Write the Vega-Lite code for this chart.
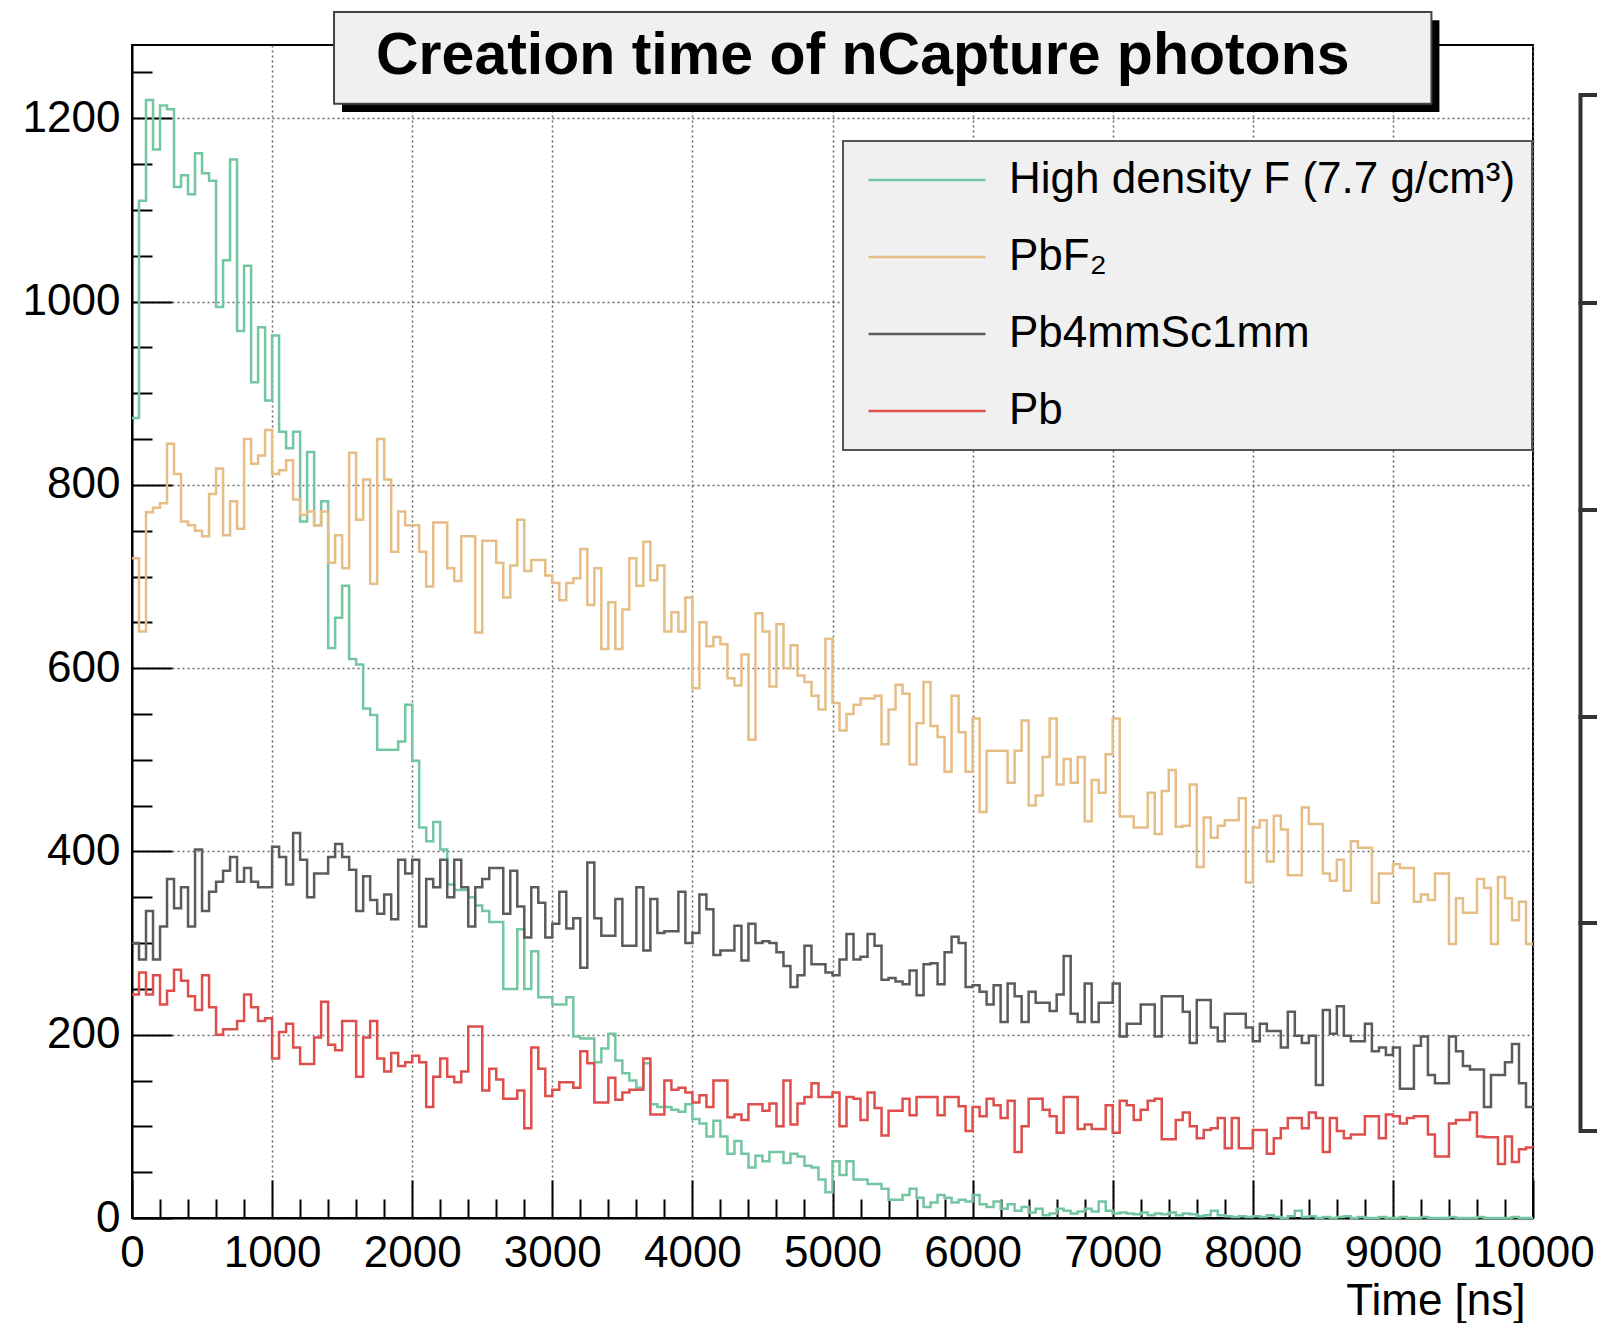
{
"$schema": "https://vega.github.io/schema/vega-lite/v6.json",
"width": 1401,
"height": 1173,
"autosize": {"type": "none"},
"padding": {"left": 132, "top": 45, "right": 64, "bottom": 105},
"background": "white",
"config": {
  "font": "Liberation Sans",
  "view": {"stroke": "#000", "strokeWidth": 2},
  "axis": {"domainColor": "#000", "domainWidth": 2, "tickColor": "#000", "tickWidth": 2, "labelColor": "#000", "labelFont": "Liberation Sans", "titleFont": "Liberation Sans", "titleColor": "#000", "labelOverlap": false},
  "legend": {"strokeWidth": 2}
},
"layer": [
{
  "data": {"values": [
{"s":"HD","t":0,"v":873},{"s":"HD","t":50,"v":1110},{"s":"HD","t":100,"v":1220},{"s":"HD","t":150,"v":1166},{"s":"HD","t":200,"v":1214},{"s":"HD","t":250,"v":1210},{"s":"HD","t":300,"v":1125},{"s":"HD","t":350,"v":1138},{"s":"HD","t":400,"v":1117},{"s":"HD","t":450,"v":1162},
{"s":"HD","t":500,"v":1140},{"s":"HD","t":550,"v":1132},{"s":"HD","t":600,"v":994},{"s":"HD","t":650,"v":1045},{"s":"HD","t":700,"v":1155},{"s":"HD","t":750,"v":968},{"s":"HD","t":800,"v":1039},{"s":"HD","t":850,"v":912},{"s":"HD","t":900,"v":972},{"s":"HD","t":950,"v":892},
{"s":"HD","t":1000,"v":963},{"s":"HD","t":1050,"v":858},{"s":"HD","t":1100,"v":840},{"s":"HD","t":1150,"v":858},{"s":"HD","t":1200,"v":760},{"s":"HD","t":1250,"v":836},{"s":"HD","t":1300,"v":756},{"s":"HD","t":1350,"v":782},{"s":"HD","t":1400,"v":622},{"s":"HD","t":1450,"v":655},
{"s":"HD","t":1500,"v":690},{"s":"HD","t":1550,"v":610},{"s":"HD","t":1600,"v":604},{"s":"HD","t":1650,"v":556},{"s":"HD","t":1700,"v":549},{"s":"HD","t":1750,"v":511},{"s":"HD","t":1800,"v":511},{"s":"HD","t":1850,"v":511},{"s":"HD","t":1900,"v":520},{"s":"HD","t":1950,"v":560},
{"s":"HD","t":2000,"v":499},{"s":"HD","t":2050,"v":426},{"s":"HD","t":2100,"v":411},{"s":"HD","t":2150,"v":432},{"s":"HD","t":2200,"v":402},{"s":"HD","t":2250,"v":364},{"s":"HD","t":2300,"v":358},{"s":"HD","t":2350,"v":358},{"s":"HD","t":2400,"v":350},{"s":"HD","t":2450,"v":341},
{"s":"HD","t":2500,"v":335},{"s":"HD","t":2550,"v":323},{"s":"HD","t":2600,"v":323},{"s":"HD","t":2650,"v":250},{"s":"HD","t":2700,"v":250},{"s":"HD","t":2750,"v":315},{"s":"HD","t":2800,"v":250},{"s":"HD","t":2850,"v":291},{"s":"HD","t":2900,"v":241},{"s":"HD","t":2950,"v":241},
{"s":"HD","t":3000,"v":233},{"s":"HD","t":3050,"v":233},{"s":"HD","t":3100,"v":241},{"s":"HD","t":3150,"v":198},{"s":"HD","t":3200,"v":196},{"s":"HD","t":3250,"v":196},{"s":"HD","t":3300,"v":170},{"s":"HD","t":3350,"v":185},{"s":"HD","t":3400,"v":201},{"s":"HD","t":3450,"v":172},
{"s":"HD","t":3500,"v":158},{"s":"HD","t":3550,"v":150},{"s":"HD","t":3600,"v":142},{"s":"HD","t":3650,"v":169},{"s":"HD","t":3700,"v":124},{"s":"HD","t":3750,"v":121},{"s":"HD","t":3800,"v":121},{"s":"HD","t":3850,"v":118},{"s":"HD","t":3900,"v":116},{"s":"HD","t":3950,"v":124},
{"s":"HD","t":4000,"v":108},{"s":"HD","t":4050,"v":103},{"s":"HD","t":4100,"v":89},{"s":"HD","t":4150,"v":106},{"s":"HD","t":4200,"v":89},{"s":"HD","t":4250,"v":70},{"s":"HD","t":4300,"v":84},{"s":"HD","t":4350,"v":70},{"s":"HD","t":4400,"v":55},{"s":"HD","t":4450,"v":68},
{"s":"HD","t":4500,"v":62},{"s":"HD","t":4550,"v":72},{"s":"HD","t":4600,"v":72},{"s":"HD","t":4650,"v":60},{"s":"HD","t":4700,"v":70},{"s":"HD","t":4750,"v":67},{"s":"HD","t":4800,"v":57},{"s":"HD","t":4850,"v":55},{"s":"HD","t":4900,"v":42},{"s":"HD","t":4950,"v":28},
{"s":"HD","t":5000,"v":62},{"s":"HD","t":5050,"v":47},{"s":"HD","t":5100,"v":62},{"s":"HD","t":5150,"v":42},{"s":"HD","t":5200,"v":42},{"s":"HD","t":5250,"v":37},{"s":"HD","t":5300,"v":37},{"s":"HD","t":5350,"v":32},{"s":"HD","t":5400,"v":20},{"s":"HD","t":5450,"v":20},
{"s":"HD","t":5500,"v":25},{"s":"HD","t":5550,"v":32},{"s":"HD","t":5600,"v":22},{"s":"HD","t":5650,"v":12},{"s":"HD","t":5700,"v":17},{"s":"HD","t":5750,"v":25},{"s":"HD","t":5800,"v":22},{"s":"HD","t":5850,"v":17},{"s":"HD","t":5900,"v":20},{"s":"HD","t":5950,"v":18},
{"s":"HD","t":6000,"v":25},{"s":"HD","t":6050,"v":15},{"s":"HD","t":6100,"v":12},{"s":"HD","t":6150,"v":18},{"s":"HD","t":6200,"v":10},{"s":"HD","t":6250,"v":15},{"s":"HD","t":6300,"v":8},{"s":"HD","t":6350,"v":12},{"s":"HD","t":6400,"v":6},{"s":"HD","t":6450,"v":10},
{"s":"HD","t":6500,"v":3},{"s":"HD","t":6550,"v":5},{"s":"HD","t":6600,"v":10},{"s":"HD","t":6650,"v":8},{"s":"HD","t":6700,"v":5},{"s":"HD","t":6750,"v":7},{"s":"HD","t":6800,"v":10},{"s":"HD","t":6850,"v":7},{"s":"HD","t":6900,"v":18},{"s":"HD","t":6950,"v":8},
{"s":"HD","t":7000,"v":5},{"s":"HD","t":7050,"v":6},{"s":"HD","t":7100,"v":5},{"s":"HD","t":7150,"v":4},{"s":"HD","t":7200,"v":6},{"s":"HD","t":7250,"v":3},{"s":"HD","t":7300,"v":5},{"s":"HD","t":7350,"v":4},{"s":"HD","t":7400,"v":6},{"s":"HD","t":7450,"v":3},
{"s":"HD","t":7500,"v":5},{"s":"HD","t":7550,"v":4},{"s":"HD","t":7600,"v":2},{"s":"HD","t":7650,"v":3},{"s":"HD","t":7700,"v":8},{"s":"HD","t":7750,"v":3},{"s":"HD","t":7800,"v":2},{"s":"HD","t":7850,"v":1},{"s":"HD","t":7900,"v":2},{"s":"HD","t":7950,"v":1},
{"s":"HD","t":8000,"v":2},{"s":"HD","t":8050,"v":1},{"s":"HD","t":8100,"v":3},{"s":"HD","t":8150,"v":1},{"s":"HD","t":8200,"v":0},{"s":"HD","t":8250,"v":2},{"s":"HD","t":8300,"v":8},{"s":"HD","t":8350,"v":1},{"s":"HD","t":8400,"v":2},{"s":"HD","t":8450,"v":0},
{"s":"HD","t":8500,"v":1},{"s":"HD","t":8550,"v":0},{"s":"HD","t":8600,"v":1},{"s":"HD","t":8650,"v":2},{"s":"HD","t":8700,"v":0},{"s":"HD","t":8750,"v":1},{"s":"HD","t":8800,"v":0},{"s":"HD","t":8850,"v":0},{"s":"HD","t":8900,"v":1},{"s":"HD","t":8950,"v":0},
{"s":"HD","t":9000,"v":0},{"s":"HD","t":9050,"v":1},{"s":"HD","t":9100,"v":0},{"s":"HD","t":9150,"v":0},{"s":"HD","t":9200,"v":1},{"s":"HD","t":9250,"v":0},{"s":"HD","t":9300,"v":0},{"s":"HD","t":9350,"v":0},{"s":"HD","t":9400,"v":1},{"s":"HD","t":9450,"v":0},
{"s":"HD","t":9500,"v":0},{"s":"HD","t":9550,"v":0},{"s":"HD","t":9600,"v":1},{"s":"HD","t":9650,"v":0},{"s":"HD","t":9700,"v":0},{"s":"HD","t":9750,"v":0},{"s":"HD","t":9800,"v":0},{"s":"HD","t":9850,"v":1},{"s":"HD","t":9900,"v":0},{"s":"HD","t":9950,"v":0},{"s":"HD","t":10000,"v":0},
{"s":"PbF2","t":0,"v":720},{"s":"PbF2","t":50,"v":640},{"s":"PbF2","t":100,"v":770},{"s":"PbF2","t":150,"v":775},{"s":"PbF2","t":200,"v":780},{"s":"PbF2","t":250,"v":845},{"s":"PbF2","t":300,"v":812},{"s":"PbF2","t":350,"v":760},{"s":"PbF2","t":400,"v":756},{"s":"PbF2","t":450,"v":750},
{"s":"PbF2","t":500,"v":744},{"s":"PbF2","t":550,"v":790},{"s":"PbF2","t":600,"v":818},{"s":"PbF2","t":650,"v":745},{"s":"PbF2","t":700,"v":782},{"s":"PbF2","t":750,"v":752},{"s":"PbF2","t":800,"v":850},{"s":"PbF2","t":850,"v":823},{"s":"PbF2","t":900,"v":832},{"s":"PbF2","t":950,"v":860},
{"s":"PbF2","t":1000,"v":812},{"s":"PbF2","t":1050,"v":816},{"s":"PbF2","t":1100,"v":827},{"s":"PbF2","t":1150,"v":784},{"s":"PbF2","t":1200,"v":767},{"s":"PbF2","t":1250,"v":771},{"s":"PbF2","t":1300,"v":756},{"s":"PbF2","t":1350,"v":771},{"s":"PbF2","t":1400,"v":715},{"s":"PbF2","t":1450,"v":745},
{"s":"PbF2","t":1500,"v":709},{"s":"PbF2","t":1550,"v":835},{"s":"PbF2","t":1600,"v":762},{"s":"PbF2","t":1650,"v":806},{"s":"PbF2","t":1700,"v":692},{"s":"PbF2","t":1750,"v":850},{"s":"PbF2","t":1800,"v":806},{"s":"PbF2","t":1850,"v":727},{"s":"PbF2","t":1900,"v":771},{"s":"PbF2","t":1950,"v":756},
{"s":"PbF2","t":2000,"v":756},{"s":"PbF2","t":2050,"v":727},{"s":"PbF2","t":2100,"v":689},{"s":"PbF2","t":2150,"v":759},{"s":"PbF2","t":2200,"v":759},{"s":"PbF2","t":2250,"v":709},{"s":"PbF2","t":2300,"v":695},{"s":"PbF2","t":2350,"v":744},{"s":"PbF2","t":2400,"v":744},{"s":"PbF2","t":2450,"v":639},
{"s":"PbF2","t":2500,"v":739},{"s":"PbF2","t":2550,"v":739},{"s":"PbF2","t":2600,"v":715},{"s":"PbF2","t":2650,"v":677},{"s":"PbF2","t":2700,"v":712},{"s":"PbF2","t":2750,"v":762},{"s":"PbF2","t":2800,"v":706},{"s":"PbF2","t":2850,"v":718},{"s":"PbF2","t":2900,"v":718},{"s":"PbF2","t":2950,"v":701},
{"s":"PbF2","t":3000,"v":693},{"s":"PbF2","t":3050,"v":674},{"s":"PbF2","t":3100,"v":693},{"s":"PbF2","t":3150,"v":698},{"s":"PbF2","t":3200,"v":730},{"s":"PbF2","t":3250,"v":669},{"s":"PbF2","t":3300,"v":709},{"s":"PbF2","t":3350,"v":621},{"s":"PbF2","t":3400,"v":672},{"s":"PbF2","t":3450,"v":621},
{"s":"PbF2","t":3500,"v":664},{"s":"PbF2","t":3550,"v":720},{"s":"PbF2","t":3600,"v":690},{"s":"PbF2","t":3650,"v":738},{"s":"PbF2","t":3700,"v":696},{"s":"PbF2","t":3750,"v":712},{"s":"PbF2","t":3800,"v":640},{"s":"PbF2","t":3850,"v":661},{"s":"PbF2","t":3900,"v":640},{"s":"PbF2","t":3950,"v":677},
{"s":"PbF2","t":4000,"v":578},{"s":"PbF2","t":4050,"v":650},{"s":"PbF2","t":4100,"v":624},{"s":"PbF2","t":4150,"v":634},{"s":"PbF2","t":4200,"v":626},{"s":"PbF2","t":4250,"v":589},{"s":"PbF2","t":4300,"v":581},{"s":"PbF2","t":4350,"v":615},{"s":"PbF2","t":4400,"v":522},{"s":"PbF2","t":4450,"v":660},
{"s":"PbF2","t":4500,"v":640},{"s":"PbF2","t":4550,"v":580},{"s":"PbF2","t":4600,"v":648},{"s":"PbF2","t":4650,"v":600},{"s":"PbF2","t":4700,"v":625},{"s":"PbF2","t":4750,"v":592},{"s":"PbF2","t":4800,"v":585},{"s":"PbF2","t":4850,"v":570},{"s":"PbF2","t":4900,"v":555},{"s":"PbF2","t":4950,"v":632},
{"s":"PbF2","t":5000,"v":562},{"s":"PbF2","t":5050,"v":532},{"s":"PbF2","t":5100,"v":550},{"s":"PbF2","t":5150,"v":560},{"s":"PbF2","t":5200,"v":567},{"s":"PbF2","t":5250,"v":567},{"s":"PbF2","t":5300,"v":570},{"s":"PbF2","t":5350,"v":517},{"s":"PbF2","t":5400,"v":555},{"s":"PbF2","t":5450,"v":582},
{"s":"PbF2","t":5500,"v":572},{"s":"PbF2","t":5550,"v":495},{"s":"PbF2","t":5600,"v":540},{"s":"PbF2","t":5650,"v":585},{"s":"PbF2","t":5700,"v":537},{"s":"PbF2","t":5750,"v":525},{"s":"PbF2","t":5800,"v":487},{"s":"PbF2","t":5850,"v":570},{"s":"PbF2","t":5900,"v":530},{"s":"PbF2","t":5950,"v":487},
{"s":"PbF2","t":6000,"v":545},{"s":"PbF2","t":6050,"v":443},{"s":"PbF2","t":6100,"v":510},{"s":"PbF2","t":6150,"v":510},{"s":"PbF2","t":6200,"v":510},{"s":"PbF2","t":6250,"v":475},{"s":"PbF2","t":6300,"v":510},{"s":"PbF2","t":6350,"v":543},{"s":"PbF2","t":6400,"v":450},{"s":"PbF2","t":6450,"v":461},
{"s":"PbF2","t":6500,"v":503},{"s":"PbF2","t":6550,"v":545},{"s":"PbF2","t":6600,"v":473},{"s":"PbF2","t":6650,"v":501},{"s":"PbF2","t":6700,"v":475},{"s":"PbF2","t":6750,"v":503},{"s":"PbF2","t":6800,"v":433},{"s":"PbF2","t":6850,"v":478},{"s":"PbF2","t":6900,"v":464},{"s":"PbF2","t":6950,"v":506},
{"s":"PbF2","t":7000,"v":545},{"s":"PbF2","t":7050,"v":438},{"s":"PbF2","t":7100,"v":438},{"s":"PbF2","t":7150,"v":426},{"s":"PbF2","t":7200,"v":426},{"s":"PbF2","t":7250,"v":464},{"s":"PbF2","t":7300,"v":419},{"s":"PbF2","t":7350,"v":466},{"s":"PbF2","t":7400,"v":489},{"s":"PbF2","t":7450,"v":427},
{"s":"PbF2","t":7500,"v":428},{"s":"PbF2","t":7550,"v":473},{"s":"PbF2","t":7600,"v":383},{"s":"PbF2","t":7650,"v":437},{"s":"PbF2","t":7700,"v":415},{"s":"PbF2","t":7750,"v":428},{"s":"PbF2","t":7800,"v":434},{"s":"PbF2","t":7850,"v":434},{"s":"PbF2","t":7900,"v":458},{"s":"PbF2","t":7950,"v":366},
{"s":"PbF2","t":8000,"v":426},{"s":"PbF2","t":8050,"v":434},{"s":"PbF2","t":8100,"v":389},{"s":"PbF2","t":8150,"v":439},{"s":"PbF2","t":8200,"v":424},{"s":"PbF2","t":8250,"v":374},{"s":"PbF2","t":8300,"v":374},{"s":"PbF2","t":8350,"v":448},{"s":"PbF2","t":8400,"v":430},{"s":"PbF2","t":8450,"v":430},
{"s":"PbF2","t":8500,"v":376},{"s":"PbF2","t":8550,"v":368},{"s":"PbF2","t":8600,"v":391},{"s":"PbF2","t":8650,"v":357},{"s":"PbF2","t":8700,"v":411},{"s":"PbF2","t":8750,"v":404},{"s":"PbF2","t":8800,"v":404},{"s":"PbF2","t":8850,"v":344},{"s":"PbF2","t":8900,"v":376},{"s":"PbF2","t":8950,"v":376},
{"s":"PbF2","t":9000,"v":386},{"s":"PbF2","t":9050,"v":382},{"s":"PbF2","t":9100,"v":382},{"s":"PbF2","t":9150,"v":345},{"s":"PbF2","t":9200,"v":353},{"s":"PbF2","t":9250,"v":347},{"s":"PbF2","t":9300,"v":376},{"s":"PbF2","t":9350,"v":376},{"s":"PbF2","t":9400,"v":299},{"s":"PbF2","t":9450,"v":349},
{"s":"PbF2","t":9500,"v":333},{"s":"PbF2","t":9550,"v":333},{"s":"PbF2","t":9600,"v":370},{"s":"PbF2","t":9650,"v":360},{"s":"PbF2","t":9700,"v":299},{"s":"PbF2","t":9750,"v":372},{"s":"PbF2","t":9800,"v":349},{"s":"PbF2","t":9850,"v":325},{"s":"PbF2","t":9900,"v":345},{"s":"PbF2","t":9950,"v":299},{"s":"PbF2","t":10000,"v":299},
{"s":"Pb4mmSc1mm","t":0,"v":300},{"s":"Pb4mmSc1mm","t":50,"v":282},{"s":"Pb4mmSc1mm","t":100,"v":335},{"s":"Pb4mmSc1mm","t":150,"v":282},{"s":"Pb4mmSc1mm","t":200,"v":318},{"s":"Pb4mmSc1mm","t":250,"v":370},{"s":"Pb4mmSc1mm","t":300,"v":338},{"s":"Pb4mmSc1mm","t":350,"v":361},{"s":"Pb4mmSc1mm","t":400,"v":318},{"s":"Pb4mmSc1mm","t":450,"v":402},
{"s":"Pb4mmSc1mm","t":500,"v":335},{"s":"Pb4mmSc1mm","t":550,"v":356},{"s":"Pb4mmSc1mm","t":600,"v":367},{"s":"Pb4mmSc1mm","t":650,"v":379},{"s":"Pb4mmSc1mm","t":700,"v":394},{"s":"Pb4mmSc1mm","t":750,"v":367},{"s":"Pb4mmSc1mm","t":800,"v":382},{"s":"Pb4mmSc1mm","t":850,"v":367},{"s":"Pb4mmSc1mm","t":900,"v":361},{"s":"Pb4mmSc1mm","t":950,"v":361},
{"s":"Pb4mmSc1mm","t":1000,"v":405},{"s":"Pb4mmSc1mm","t":1050,"v":394},{"s":"Pb4mmSc1mm","t":1100,"v":364},{"s":"Pb4mmSc1mm","t":1150,"v":420},{"s":"Pb4mmSc1mm","t":1200,"v":391},{"s":"Pb4mmSc1mm","t":1250,"v":350},{"s":"Pb4mmSc1mm","t":1300,"v":376},{"s":"Pb4mmSc1mm","t":1350,"v":376},{"s":"Pb4mmSc1mm","t":1400,"v":394},{"s":"Pb4mmSc1mm","t":1450,"v":408},
{"s":"Pb4mmSc1mm","t":1500,"v":394},{"s":"Pb4mmSc1mm","t":1550,"v":380},{"s":"Pb4mmSc1mm","t":1600,"v":335},{"s":"Pb4mmSc1mm","t":1650,"v":373},{"s":"Pb4mmSc1mm","t":1700,"v":347},{"s":"Pb4mmSc1mm","t":1750,"v":332},{"s":"Pb4mmSc1mm","t":1800,"v":353},{"s":"Pb4mmSc1mm","t":1850,"v":326},{"s":"Pb4mmSc1mm","t":1900,"v":391},{"s":"Pb4mmSc1mm","t":1950,"v":376},
{"s":"Pb4mmSc1mm","t":2000,"v":391},{"s":"Pb4mmSc1mm","t":2050,"v":318},{"s":"Pb4mmSc1mm","t":2100,"v":370},{"s":"Pb4mmSc1mm","t":2150,"v":361},{"s":"Pb4mmSc1mm","t":2200,"v":391},{"s":"Pb4mmSc1mm","t":2250,"v":350},{"s":"Pb4mmSc1mm","t":2300,"v":391},{"s":"Pb4mmSc1mm","t":2350,"v":361},{"s":"Pb4mmSc1mm","t":2400,"v":318},{"s":"Pb4mmSc1mm","t":2450,"v":361},
{"s":"Pb4mmSc1mm","t":2500,"v":370},{"s":"Pb4mmSc1mm","t":2550,"v":382},{"s":"Pb4mmSc1mm","t":2600,"v":382},{"s":"Pb4mmSc1mm","t":2650,"v":332},{"s":"Pb4mmSc1mm","t":2700,"v":379},{"s":"Pb4mmSc1mm","t":2750,"v":340},{"s":"Pb4mmSc1mm","t":2800,"v":306},{"s":"Pb4mmSc1mm","t":2850,"v":361},{"s":"Pb4mmSc1mm","t":2900,"v":344},{"s":"Pb4mmSc1mm","t":2950,"v":306},
{"s":"Pb4mmSc1mm","t":3000,"v":321},{"s":"Pb4mmSc1mm","t":3050,"v":356},{"s":"Pb4mmSc1mm","t":3100,"v":316},{"s":"Pb4mmSc1mm","t":3150,"v":327},{"s":"Pb4mmSc1mm","t":3200,"v":273},{"s":"Pb4mmSc1mm","t":3250,"v":388},{"s":"Pb4mmSc1mm","t":3300,"v":327},{"s":"Pb4mmSc1mm","t":3350,"v":308},{"s":"Pb4mmSc1mm","t":3400,"v":308},{"s":"Pb4mmSc1mm","t":3450,"v":348},
{"s":"Pb4mmSc1mm","t":3500,"v":297},{"s":"Pb4mmSc1mm","t":3550,"v":297},{"s":"Pb4mmSc1mm","t":3600,"v":361},{"s":"Pb4mmSc1mm","t":3650,"v":292},{"s":"Pb4mmSc1mm","t":3700,"v":348},{"s":"Pb4mmSc1mm","t":3750,"v":311},{"s":"Pb4mmSc1mm","t":3800,"v":313},{"s":"Pb4mmSc1mm","t":3850,"v":313},{"s":"Pb4mmSc1mm","t":3900,"v":356},{"s":"Pb4mmSc1mm","t":3950,"v":300},
{"s":"Pb4mmSc1mm","t":4000,"v":311},{"s":"Pb4mmSc1mm","t":4050,"v":353},{"s":"Pb4mmSc1mm","t":4100,"v":337},{"s":"Pb4mmSc1mm","t":4150,"v":287},{"s":"Pb4mmSc1mm","t":4200,"v":292},{"s":"Pb4mmSc1mm","t":4250,"v":292},{"s":"Pb4mmSc1mm","t":4300,"v":319},{"s":"Pb4mmSc1mm","t":4350,"v":281},{"s":"Pb4mmSc1mm","t":4400,"v":321},{"s":"Pb4mmSc1mm","t":4450,"v":300},
{"s":"Pb4mmSc1mm","t":4500,"v":302},{"s":"Pb4mmSc1mm","t":4550,"v":300},{"s":"Pb4mmSc1mm","t":4600,"v":290},{"s":"Pb4mmSc1mm","t":4650,"v":275},{"s":"Pb4mmSc1mm","t":4700,"v":252},{"s":"Pb4mmSc1mm","t":4750,"v":265},{"s":"Pb4mmSc1mm","t":4800,"v":297},{"s":"Pb4mmSc1mm","t":4850,"v":277},{"s":"Pb4mmSc1mm","t":4900,"v":277},{"s":"Pb4mmSc1mm","t":4950,"v":268},
{"s":"Pb4mmSc1mm","t":5000,"v":265},{"s":"Pb4mmSc1mm","t":5050,"v":282},{"s":"Pb4mmSc1mm","t":5100,"v":310},{"s":"Pb4mmSc1mm","t":5150,"v":282},{"s":"Pb4mmSc1mm","t":5200,"v":285},{"s":"Pb4mmSc1mm","t":5250,"v":310},{"s":"Pb4mmSc1mm","t":5300,"v":297},{"s":"Pb4mmSc1mm","t":5350,"v":260},{"s":"Pb4mmSc1mm","t":5400,"v":262},{"s":"Pb4mmSc1mm","t":5450,"v":258},
{"s":"Pb4mmSc1mm","t":5500,"v":255},{"s":"Pb4mmSc1mm","t":5550,"v":270},{"s":"Pb4mmSc1mm","t":5600,"v":243},{"s":"Pb4mmSc1mm","t":5650,"v":277},{"s":"Pb4mmSc1mm","t":5700,"v":278},{"s":"Pb4mmSc1mm","t":5750,"v":255},{"s":"Pb4mmSc1mm","t":5800,"v":290},{"s":"Pb4mmSc1mm","t":5850,"v":307},{"s":"Pb4mmSc1mm","t":5900,"v":300},{"s":"Pb4mmSc1mm","t":5950,"v":252},
{"s":"Pb4mmSc1mm","t":6000,"v":254},{"s":"Pb4mmSc1mm","t":6050,"v":247},{"s":"Pb4mmSc1mm","t":6100,"v":233},{"s":"Pb4mmSc1mm","t":6150,"v":254},{"s":"Pb4mmSc1mm","t":6200,"v":214},{"s":"Pb4mmSc1mm","t":6250,"v":256},{"s":"Pb4mmSc1mm","t":6300,"v":242},{"s":"Pb4mmSc1mm","t":6350,"v":214},{"s":"Pb4mmSc1mm","t":6400,"v":247},{"s":"Pb4mmSc1mm","t":6450,"v":235},
{"s":"Pb4mmSc1mm","t":6500,"v":235},{"s":"Pb4mmSc1mm","t":6550,"v":226},{"s":"Pb4mmSc1mm","t":6600,"v":244},{"s":"Pb4mmSc1mm","t":6650,"v":286},{"s":"Pb4mmSc1mm","t":6700,"v":223},{"s":"Pb4mmSc1mm","t":6750,"v":214},{"s":"Pb4mmSc1mm","t":6800,"v":256},{"s":"Pb4mmSc1mm","t":6850,"v":214},{"s":"Pb4mmSc1mm","t":6900,"v":235},{"s":"Pb4mmSc1mm","t":6950,"v":235},
{"s":"Pb4mmSc1mm","t":7000,"v":256},{"s":"Pb4mmSc1mm","t":7050,"v":198},{"s":"Pb4mmSc1mm","t":7100,"v":212},{"s":"Pb4mmSc1mm","t":7150,"v":212},{"s":"Pb4mmSc1mm","t":7200,"v":233},{"s":"Pb4mmSc1mm","t":7250,"v":233},{"s":"Pb4mmSc1mm","t":7300,"v":198},{"s":"Pb4mmSc1mm","t":7350,"v":242},{"s":"Pb4mmSc1mm","t":7400,"v":242},{"s":"Pb4mmSc1mm","t":7450,"v":242},
{"s":"Pb4mmSc1mm","t":7500,"v":225},{"s":"Pb4mmSc1mm","t":7550,"v":191},{"s":"Pb4mmSc1mm","t":7600,"v":238},{"s":"Pb4mmSc1mm","t":7650,"v":238},{"s":"Pb4mmSc1mm","t":7700,"v":208},{"s":"Pb4mmSc1mm","t":7750,"v":193},{"s":"Pb4mmSc1mm","t":7800,"v":223},{"s":"Pb4mmSc1mm","t":7850,"v":223},{"s":"Pb4mmSc1mm","t":7900,"v":223},{"s":"Pb4mmSc1mm","t":7950,"v":208},
{"s":"Pb4mmSc1mm","t":8000,"v":193},{"s":"Pb4mmSc1mm","t":8050,"v":212},{"s":"Pb4mmSc1mm","t":8100,"v":204},{"s":"Pb4mmSc1mm","t":8150,"v":204},{"s":"Pb4mmSc1mm","t":8200,"v":186},{"s":"Pb4mmSc1mm","t":8250,"v":225},{"s":"Pb4mmSc1mm","t":8300,"v":199},{"s":"Pb4mmSc1mm","t":8350,"v":191},{"s":"Pb4mmSc1mm","t":8400,"v":199},{"s":"Pb4mmSc1mm","t":8450,"v":145},
{"s":"Pb4mmSc1mm","t":8500,"v":227},{"s":"Pb4mmSc1mm","t":8550,"v":201},{"s":"Pb4mmSc1mm","t":8600,"v":231},{"s":"Pb4mmSc1mm","t":8650,"v":199},{"s":"Pb4mmSc1mm","t":8700,"v":193},{"s":"Pb4mmSc1mm","t":8750,"v":193},{"s":"Pb4mmSc1mm","t":8800,"v":212},{"s":"Pb4mmSc1mm","t":8850,"v":182},{"s":"Pb4mmSc1mm","t":8900,"v":186},{"s":"Pb4mmSc1mm","t":8950,"v":178},
{"s":"Pb4mmSc1mm","t":9000,"v":186},{"s":"Pb4mmSc1mm","t":9050,"v":141},{"s":"Pb4mmSc1mm","t":9100,"v":141},{"s":"Pb4mmSc1mm","t":9150,"v":188},{"s":"Pb4mmSc1mm","t":9200,"v":198},{"s":"Pb4mmSc1mm","t":9250,"v":156},{"s":"Pb4mmSc1mm","t":9300,"v":147},{"s":"Pb4mmSc1mm","t":9350,"v":147},{"s":"Pb4mmSc1mm","t":9400,"v":198},{"s":"Pb4mmSc1mm","t":9450,"v":182},
{"s":"Pb4mmSc1mm","t":9500,"v":166},{"s":"Pb4mmSc1mm","t":9550,"v":162},{"s":"Pb4mmSc1mm","t":9600,"v":162},{"s":"Pb4mmSc1mm","t":9650,"v":121},{"s":"Pb4mmSc1mm","t":9700,"v":156},{"s":"Pb4mmSc1mm","t":9750,"v":156},{"s":"Pb4mmSc1mm","t":9800,"v":170},{"s":"Pb4mmSc1mm","t":9850,"v":190},{"s":"Pb4mmSc1mm","t":9900,"v":147},{"s":"Pb4mmSc1mm","t":9950,"v":121},{"s":"Pb4mmSc1mm","t":10000,"v":121},
{"s":"Pb","t":0,"v":244},{"s":"Pb","t":50,"v":268},{"s":"Pb","t":100,"v":244},{"s":"Pb","t":150,"v":265},{"s":"Pb","t":200,"v":233},{"s":"Pb","t":250,"v":248},{"s":"Pb","t":300,"v":271},{"s":"Pb","t":350,"v":259},{"s":"Pb","t":400,"v":242},{"s":"Pb","t":450,"v":227},
{"s":"Pb","t":500,"v":265},{"s":"Pb","t":550,"v":230},{"s":"Pb","t":600,"v":200},{"s":"Pb","t":650,"v":206},{"s":"Pb","t":700,"v":206},{"s":"Pb","t":750,"v":215},{"s":"Pb","t":800,"v":244},{"s":"Pb","t":850,"v":230},{"s":"Pb","t":900,"v":215},{"s":"Pb","t":950,"v":218},
{"s":"Pb","t":1000,"v":174},{"s":"Pb","t":1050,"v":203},{"s":"Pb","t":1100,"v":212},{"s":"Pb","t":1150,"v":186},{"s":"Pb","t":1200,"v":168},{"s":"Pb","t":1250,"v":168},{"s":"Pb","t":1300,"v":197},{"s":"Pb","t":1350,"v":236},{"s":"Pb","t":1400,"v":189},{"s":"Pb","t":1450,"v":183},
{"s":"Pb","t":1500,"v":215},{"s":"Pb","t":1550,"v":215},{"s":"Pb","t":1600,"v":154},{"s":"Pb","t":1650,"v":197},{"s":"Pb","t":1700,"v":215},{"s":"Pb","t":1750,"v":174},{"s":"Pb","t":1800,"v":160},{"s":"Pb","t":1850,"v":180},{"s":"Pb","t":1900,"v":166},{"s":"Pb","t":1950,"v":170},
{"s":"Pb","t":2000,"v":177},{"s":"Pb","t":2050,"v":170},{"s":"Pb","t":2100,"v":121},{"s":"Pb","t":2150,"v":154},{"s":"Pb","t":2200,"v":174},{"s":"Pb","t":2250,"v":154},{"s":"Pb","t":2300,"v":148},{"s":"Pb","t":2350,"v":160},{"s":"Pb","t":2400,"v":209},{"s":"Pb","t":2450,"v":209},
{"s":"Pb","t":2500,"v":139},{"s":"Pb","t":2550,"v":163},{"s":"Pb","t":2600,"v":151},{"s":"Pb","t":2650,"v":130},{"s":"Pb","t":2700,"v":130},{"s":"Pb","t":2750,"v":139},{"s":"Pb","t":2800,"v":98},{"s":"Pb","t":2850,"v":186},{"s":"Pb","t":2900,"v":163},{"s":"Pb","t":2950,"v":133},
{"s":"Pb","t":3000,"v":140},{"s":"Pb","t":3050,"v":148},{"s":"Pb","t":3100,"v":148},{"s":"Pb","t":3150,"v":142},{"s":"Pb","t":3200,"v":182},{"s":"Pb","t":3250,"v":169},{"s":"Pb","t":3300,"v":126},{"s":"Pb","t":3350,"v":126},{"s":"Pb","t":3400,"v":153},{"s":"Pb","t":3450,"v":129},
{"s":"Pb","t":3500,"v":137},{"s":"Pb","t":3550,"v":140},{"s":"Pb","t":3600,"v":140},{"s":"Pb","t":3650,"v":174},{"s":"Pb","t":3700,"v":113},{"s":"Pb","t":3750,"v":113},{"s":"Pb","t":3800,"v":150},{"s":"Pb","t":3850,"v":140},{"s":"Pb","t":3900,"v":142},{"s":"Pb","t":3950,"v":137},
{"s":"Pb","t":4000,"v":126},{"s":"Pb","t":4050,"v":134},{"s":"Pb","t":4100,"v":121},{"s":"Pb","t":4150,"v":150},{"s":"Pb","t":4200,"v":150},{"s":"Pb","t":4250,"v":110},{"s":"Pb","t":4300,"v":113},{"s":"Pb","t":4350,"v":107},{"s":"Pb","t":4400,"v":124},{"s":"Pb","t":4450,"v":124},
{"s":"Pb","t":4500,"v":117},{"s":"Pb","t":4550,"v":125},{"s":"Pb","t":4600,"v":100},{"s":"Pb","t":4650,"v":150},{"s":"Pb","t":4700,"v":102},{"s":"Pb","t":4750,"v":125},{"s":"Pb","t":4800,"v":132},{"s":"Pb","t":4850,"v":147},{"s":"Pb","t":4900,"v":132},{"s":"Pb","t":4950,"v":132},
{"s":"Pb","t":5000,"v":137},{"s":"Pb","t":5050,"v":100},{"s":"Pb","t":5100,"v":132},{"s":"Pb","t":5150,"v":130},{"s":"Pb","t":5200,"v":107},{"s":"Pb","t":5250,"v":137},{"s":"Pb","t":5300,"v":120},{"s":"Pb","t":5350,"v":90},{"s":"Pb","t":5400,"v":117},{"s":"Pb","t":5450,"v":117},
{"s":"Pb","t":5500,"v":130},{"s":"Pb","t":5550,"v":112},{"s":"Pb","t":5600,"v":132},{"s":"Pb","t":5650,"v":132},{"s":"Pb","t":5700,"v":132},{"s":"Pb","t":5750,"v":112},{"s":"Pb","t":5800,"v":132},{"s":"Pb","t":5850,"v":132},{"s":"Pb","t":5900,"v":122},{"s":"Pb","t":5950,"v":95},
{"s":"Pb","t":6000,"v":121},{"s":"Pb","t":6050,"v":111},{"s":"Pb","t":6100,"v":130},{"s":"Pb","t":6150,"v":123},{"s":"Pb","t":6200,"v":109},{"s":"Pb","t":6250,"v":128},{"s":"Pb","t":6300,"v":72},{"s":"Pb","t":6350,"v":100},{"s":"Pb","t":6400,"v":130},{"s":"Pb","t":6450,"v":130},
{"s":"Pb","t":6500,"v":118},{"s":"Pb","t":6550,"v":111},{"s":"Pb","t":6600,"v":93},{"s":"Pb","t":6650,"v":132},{"s":"Pb","t":6700,"v":132},{"s":"Pb","t":6750,"v":97},{"s":"Pb","t":6800,"v":102},{"s":"Pb","t":6850,"v":97},{"s":"Pb","t":6900,"v":97},{"s":"Pb","t":6950,"v":123},
{"s":"Pb","t":7000,"v":93},{"s":"Pb","t":7050,"v":128},{"s":"Pb","t":7100,"v":123},{"s":"Pb","t":7150,"v":107},{"s":"Pb","t":7200,"v":118},{"s":"Pb","t":7250,"v":128},{"s":"Pb","t":7300,"v":130},{"s":"Pb","t":7350,"v":86},{"s":"Pb","t":7400,"v":86},{"s":"Pb","t":7450,"v":107},
{"s":"Pb","t":7500,"v":115},{"s":"Pb","t":7550,"v":100},{"s":"Pb","t":7600,"v":87},{"s":"Pb","t":7650,"v":96},{"s":"Pb","t":7700,"v":98},{"s":"Pb","t":7750,"v":109},{"s":"Pb","t":7800,"v":76},{"s":"Pb","t":7850,"v":109},{"s":"Pb","t":7900,"v":76},{"s":"Pb","t":7950,"v":76},
{"s":"Pb","t":8000,"v":96},{"s":"Pb","t":8050,"v":96},{"s":"Pb","t":8100,"v":70},{"s":"Pb","t":8150,"v":87},{"s":"Pb","t":8200,"v":98},{"s":"Pb","t":8250,"v":109},{"s":"Pb","t":8300,"v":109},{"s":"Pb","t":8350,"v":98},{"s":"Pb","t":8400,"v":115},{"s":"Pb","t":8450,"v":109},
{"s":"Pb","t":8500,"v":72},{"s":"Pb","t":8550,"v":109},{"s":"Pb","t":8600,"v":95},{"s":"Pb","t":8650,"v":87},{"s":"Pb","t":8700,"v":91},{"s":"Pb","t":8750,"v":91},{"s":"Pb","t":8800,"v":111},{"s":"Pb","t":8850,"v":111},{"s":"Pb","t":8900,"v":87},{"s":"Pb","t":8950,"v":113},
{"s":"Pb","t":9000,"v":111},{"s":"Pb","t":9050,"v":103},{"s":"Pb","t":9100,"v":109},{"s":"Pb","t":9150,"v":111},{"s":"Pb","t":9200,"v":111},{"s":"Pb","t":9250,"v":91},{"s":"Pb","t":9300,"v":67},{"s":"Pb","t":9350,"v":67},{"s":"Pb","t":9400,"v":103},{"s":"Pb","t":9450,"v":107},
{"s":"Pb","t":9500,"v":107},{"s":"Pb","t":9550,"v":115},{"s":"Pb","t":9600,"v":89},{"s":"Pb","t":9650,"v":88},{"s":"Pb","t":9700,"v":88},{"s":"Pb","t":9750,"v":59},{"s":"Pb","t":9800,"v":89},{"s":"Pb","t":9850,"v":61},{"s":"Pb","t":9900,"v":75},{"s":"Pb","t":9950,"v":77},{"s":"Pb","t":10000,"v":77}
  ]},
  "mark": {"type": "line", "interpolate": "step-after", "strokeWidth": 2.5},
  "encoding": {
    "x": {"field": "t", "type": "quantitative",
      "scale": {"domain": [0, 10000], "nice": false, "zero": false},
      "axis": {
        "values": [0,200,400,600,800,1000,1200,1400,1600,1800,2000,2200,2400,2600,2800,3000,3200,3400,3600,3800,4000,4200,4400,4600,4800,5000,5200,5400,5600,5800,6000,6200,6400,6600,6800,7000,7200,7400,7600,7800,8000,8200,8400,8600,8800,9000,9200,9400,9600,9800,10000],
        "tickCount": 60,
        "format": "d",
        "labelExpr": "datum.value % 1000 === 0 ? datum.label : ''",
        "labelFontSize": 44, "labelPadding": 51, "labelOverlap": false, "labelFlush": false,
        "tickSize": {"condition": {"test": "datum.value % 1000 === 0", "value": -38}, "value": -19},
        "grid": true, "gridColor": "#666", "gridDash": [2, 3], "gridWidth": 1.5,
        "gridOpacity": {"condition": {"test": "datum.value % 1000 === 0", "value": 1}, "value": 0},
        "title": "Time [ns]", "titleFontSize": 44, "titleFontWeight": "normal",
        "titleAnchor": "end", "titleAlign": "right", "titleBaseline": "alphabetic", "titleX": 1393, "titleY": 96
      }},
    "y": {"field": "v", "type": "quantitative",
      "scale": {"domain": [0, 1280], "nice": false},
      "axis": {
        "values": [0,50,100,150,200,250,300,350,400,450,500,550,600,650,700,750,800,850,900,950,1000,1050,1100,1150,1200,1250],
        "tickCount": 40,
        "format": "d",
        "labelExpr": "datum.value % 200 === 0 ? datum.label : ''",
        "labelFontSize": 44, "labelPadding": 52, "labelOverlap": false, "labelFlush": false,
        "tickSize": {"condition": {"test": "datum.value % 200 === 0", "value": -40}, "value": -20},
        "grid": true, "gridColor": "#666", "gridDash": [2, 3], "gridWidth": 1.5,
        "gridOpacity": {"condition": {"test": "datum.value % 200 === 0", "value": 1}, "value": 0},
        "title": null
      }},
    "color": {"field": "s", "type": "nominal",
      "scale": {"domain": ["HD", "PbF2", "Pb4mmSc1mm", "Pb"], "range": ["#73c6a1", "#e6bd85", "#5b5b5b", "#de4f4c"]},
      "legend": {
        "orient": "none", "legendX": 711, "legendY": 96, "title": null,
        "labelExpr": "datum.label === 'HD' ? 'High density F (7.7 g/cm³)' : (datum.label === 'PbF2' ? 'PbF₂' : datum.label)",
        "labelFontSize": 44, "labelFont": "Liberation Sans", "labelColor": "#000", "labelLimit": 900,
        "symbolType": "stroke", "symbolSize": 13689, "symbolStrokeWidth": 2.5,
        "clipHeight": 46, "rowPadding": 31, "padding": 16,
        "fillColor": "#f0f0f0", "strokeColor": "#555", "labelOffset": 22, "symbolOffset": 8
      }}
  }
},
{
  "data": {"values": [{}]},
  "mark": {"type": "rect", "fill": "#000"},
  "encoding": {"x": {"datum": 1499}, "x2": {"datum": 9332}, "y": {"datum": 1307}, "y2": {"datum": 1207}}
},
{
  "data": {"values": [{}]},
  "mark": {"type": "rect", "fill": "#f0f0f0", "stroke": "#444", "strokeWidth": 2},
  "encoding": {"x": {"datum": 1442}, "x2": {"datum": 9275}, "y": {"datum": 1316}, "y2": {"datum": 1216}}
},
{
  "data": {"values": [{}]},
  "mark": {"type": "text", "text": "Creation time of nCapture photons", "font": "Liberation Sans", "fontSize": 59, "fontWeight": "bold", "align": "center", "baseline": "middle", "color": "#000"},
  "encoding": {"x": {"datum": 5216}, "y": {"datum": 1268}}
},
{
  "data": {"values": [{}]},
  "mark": {"type": "rect", "fill": "#fff", "stroke": "#333", "strokeWidth": 4},
  "encoding": {"x": {"datum": 10339}, "x2": {"datum": 10800}, "y": {"datum": 1225.5}, "y2": {"datum": 998.5}}
},
{
  "data": {"values": [{}]},
  "mark": {"type": "rect", "fill": "#fff", "stroke": "#333", "strokeWidth": 4},
  "encoding": {"x": {"datum": 10339}, "x2": {"datum": 10800}, "y": {"datum": 998.5}, "y2": {"datum": 772.6}}
},
{
  "data": {"values": [{}]},
  "mark": {"type": "rect", "fill": "#fff", "stroke": "#333", "strokeWidth": 4},
  "encoding": {"x": {"datum": 10339}, "x2": {"datum": 10800}, "y": {"datum": 772.6}, "y2": {"datum": 546.7}}
},
{
  "data": {"values": [{}]},
  "mark": {"type": "rect", "fill": "#fff", "stroke": "#333", "strokeWidth": 4},
  "encoding": {"x": {"datum": 10339}, "x2": {"datum": 10800}, "y": {"datum": 546.7}, "y2": {"datum": 321.9}}
},
{
  "data": {"values": [{}]},
  "mark": {"type": "rect", "fill": "#fff", "stroke": "#333", "strokeWidth": 4},
  "encoding": {"x": {"datum": 10339}, "x2": {"datum": 10800}, "y": {"datum": 321.9}, "y2": {"datum": 94.9}}
}
]
}
